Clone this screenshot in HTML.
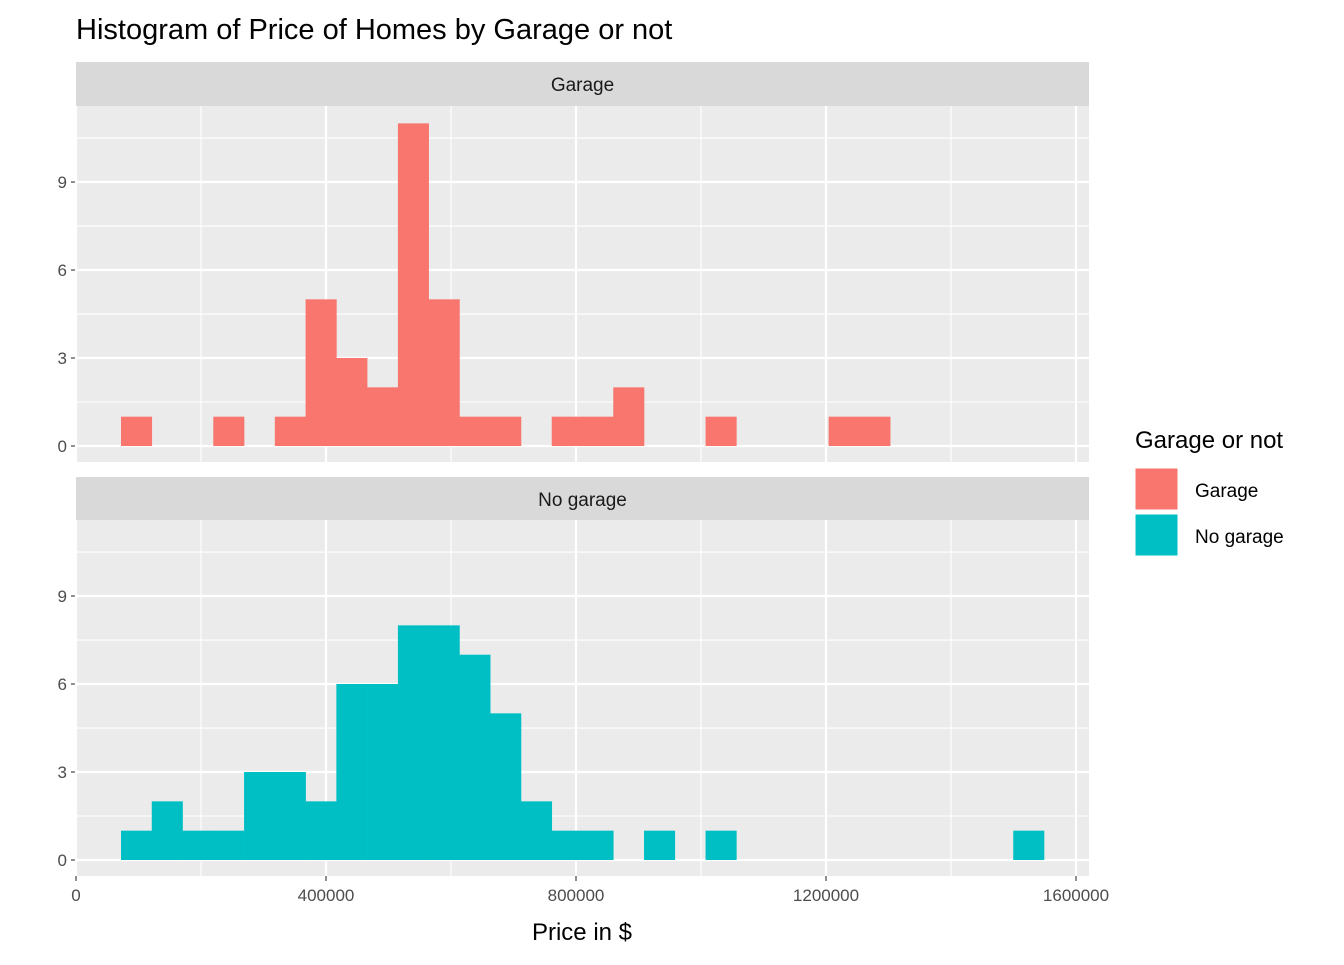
<!DOCTYPE html>
<html><head><meta charset="utf-8"><style>
body{margin:0;background:#fff;}
svg text{font-family:"Liberation Sans",Arial,sans-serif;}
</style></head><body>
<svg id="chart" width="1344" height="960" xmlns="http://www.w3.org/2000/svg">
<text x="76" y="39" font-size="29" fill="#000">Histogram of Price of Homes by Garage or not</text>
<g id="panels"></g>
<text x="582" y="940" font-size="24" text-anchor="middle" fill="#000">Price in $</text>
<text x="1135" y="448" font-size="24" fill="#000">Garage or not</text>
<g>
<rect x="1135" y="468" width="43" height="42" fill="#F8766D" stroke="#fff"/>
<text x="1195" y="497" font-size="19">Garage</text></g>
<g>
<rect x="1135" y="514" width="43" height="42" fill="#00BFC4" stroke="#fff"/>
<text x="1195" y="543" font-size="19">No garage</text></g>
</svg>
<script>
const binStart = 72000;
const binWidth = 49227;
const garageCounts = [1,0,0,1,0,1,5,3,2,11,5,1,1,0,1,1,2,0,0,1,0,0,0,1,1,0,0,0,0,0];
const noGarageCounts = [1,2,1,1,3,3,2,6,6,8,8,7,5,2,1,1,0,1,0,1,0,0,0,0,0,0,0,0,0,1];
const yTicks = [0,3,6,9];
const xTicks = [0,400000,800000,1200000,1600000];
const xTickLabels = ["0","400000","800000","1200000","1600000"];

const NS="http://www.w3.org/2000/svg";
const g=document.getElementById('panels');
function mk(tag,attrs,parent){const e=document.createElementNS(NS,tag);for(const k in attrs)e.setAttribute(k,attrs[k]);(parent||g).appendChild(e);return e;}
const X0=76,X1=1089;
function xs(v){return 76+v*0.000625;}
const panels=[
 {name:'garage',label:'Garage',counts:garageCounts,color:'#F8766D',stripY:62,top:106,bottom:462,zeroY:446},
 {name:'no-garage',label:'No garage',counts:noGarageCounts,color:'#00BFC4',stripY:477,top:520,bottom:876,zeroY:860}
];
const unit=29.33;
panels.forEach((p,pi)=>{
  const ys=v=>p.zeroY-v*unit;
  const bg=mk('rect',{x:X0,y:p.top,width:X1-X0,height:p.bottom-p.top,fill:'#EBEBEB'});
  
  
  const strip=mk('rect',{x:X0,y:p.stripY,width:X1-X0,height:p.top-p.stripY,fill:'#D9D9D9'});
  
  
  const st=mk('text',{x:(X0+X1)/2,y:p.stripY+29,'font-size':'19','text-anchor':'middle',fill:'#1a1a1a'});
  st.textContent=p.label;
  
  
  // minor grid
  for(let i=0;i<yTicks.length;i++){const v=yTicks[i]+1.5;const ln=mk('line',{x1:X0,x2:X1,y1:ys(v),y2:ys(v),stroke:'#fff','stroke-width':1.1});}
  for(let i=0;i<xTicks.length-1;i++){const v=(xTicks[i]+xTicks[i+1])/2;const ln=mk('line',{x1:xs(v),x2:xs(v),y1:p.top,y2:p.bottom,stroke:'#fff','stroke-width':1.1});}
  yTicks.forEach(t=>{
    const ln=mk('line',{x1:X0,x2:X1,y1:ys(t),y2:ys(t),stroke:'#fff','stroke-width':2.2});
    
    
    const tk=mk('line',{x1:X0-5,x2:X0,y1:ys(t),y2:ys(t),stroke:'#333','stroke-width':1.1});
    
    
    const tx=mk('text',{x:X0-9,y:ys(t)+6,'font-size':'17','text-anchor':'end',fill:'#4D4D4D'});
    tx.textContent=t;
    
    
  });
  xTicks.forEach((t,i)=>{
    const ln=mk('line',{x1:xs(t),x2:xs(t),y1:p.top,y2:p.bottom,stroke:'#fff','stroke-width':2.2});
    
    
    if(pi===1){
      const tk=mk('line',{x1:xs(t),x2:xs(t),y1:p.bottom,y2:p.bottom+5,stroke:'#333','stroke-width':1.1});
      
      
      const tx=mk('text',{x:xs(t),y:p.bottom+25,'font-size':'17','text-anchor':'middle',fill:'#4D4D4D'});
      tx.textContent=xTickLabels[i];
      
      
    }
  });
  p.counts.forEach((c,i)=>{
    if(c<=0)return;
    const xa=xs(binStart+i*binWidth),xb=xs(binStart+(i+1)*binWidth);
    const r=mk('rect',{x:xa,y:ys(c),width:xb-xa+0.3,height:ys(0)-ys(c),fill:p.color});
    
    
  });
});
</script>
</body></html>
